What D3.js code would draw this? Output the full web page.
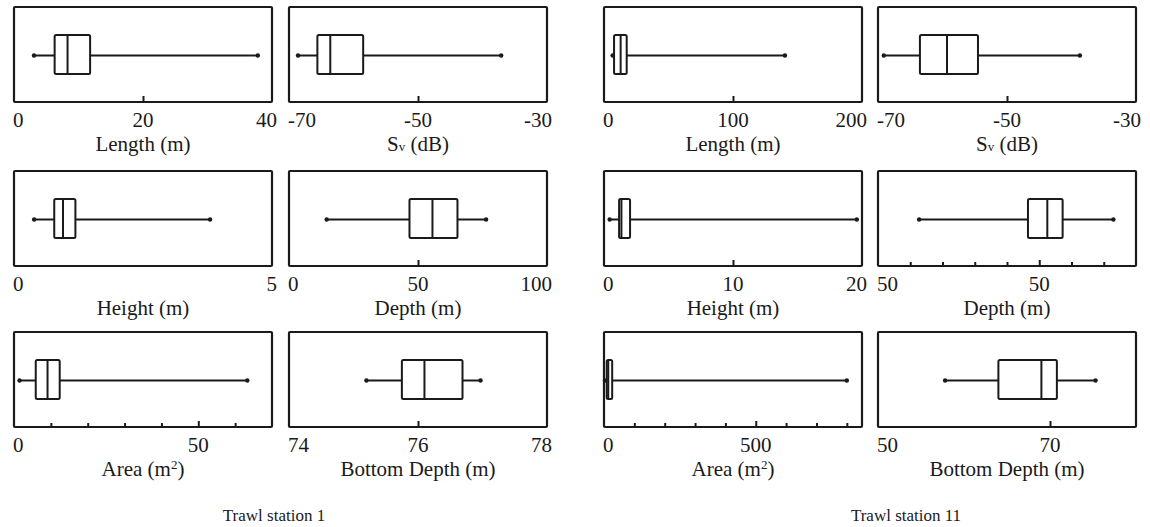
<!DOCTYPE html>
<html>
<head>
<meta charset="utf-8">
<script src="https://cdn.jsdelivr.net/npm/d3@7"></script>
<style>
  body { margin: 0; background: #fff; }
  text { font-family: "Liberation Serif", "Times New Roman", serif; fill: #1a1a1a; }
</style>
</head>
<body>
<div id="chart"></div>
<script>
// panels, row by row: station 1 (two columns) then station 11 (two columns)
var titles = ["Length (m)", "Sv (dB)", "Length (m)", "Sv (dB)",
              "Height (m)", "Depth (m)", "Height (m)", "Depth (m)",
              "Area (m2)", "Bottom Depth (m)", "Area (m2)", "Bottom Depth (m)"];

var domains = [[0, 40], [-70, -30], [0, 200], [-70, -30],
               [0, 5], [0, 100], [0, 20], [30, 62],
               [0, 70], [74, 78], [0, 850], [50, 80]];

var labelValues = [[0, 20, 40], [-70, -50, -30], [0, 100, 200], [-70, -50, -30],
                   [0, 5], [0, 50, 100], [0, 10, 20], [30, 50],
                   [0, 50], [74, 76, 78], [0, 500], [50, 70]];

var labelTexts = [["0", "20", "40"], ["-70", "-50", "-30"], ["0", "100", "200"], ["-70", "-50", "-30"],
                  ["0", "5"], ["0", "50", "100"], ["0", "10", "20"], ["50", "50"],
                  ["0", "50"], ["74", "76", "78"], ["0", "500"], ["50", "70"]];

var majorTicks = [[20], [-50], [100], [-50],
                  [], [50], [10], [50],
                  [50], [76], [500], [70]];

var minorTicks = [[], [], [], [],
                  [], [], [], [34, 38, 42, 46, 54, 58],
                  [10, 20, 30, 40, 60], [], [100, 200, 300, 400, 600, 700, 800], []];

var whiskerLow  = [3.1, -68.6, 6.7, -69.1,   0.39, 14.6, 0.44, 35.1,   1.5, 75.20, 3, 57.8];
var q1          = [6.3, -65.6, 7.8, -63.5,   0.78, 46.7, 1.17, 48.6,   5.9, 75.75, 9, 64.0];
var median      = [8.3, -63.6, 12.9, -59.3,  0.95, 55.6, 1.35, 51.0,   9.1, 76.10, 14, 69.0];
var q3          = [11.8, -58.5, 17.6, -54.5, 1.19, 65.3, 2.02, 52.9,   12.4, 76.69, 27, 70.8];
var whiskerHigh = [37.8, -37.1, 140.3, -38.7, 3.80, 76.4, 19.6, 59.2,  63.3, 76.97, 800, 75.3];

var stations = ["Trawl station 1", "Trawl station 11"];

var colX = [14, 289, 604, 878];
var rowY = [7, 171, 332];
var pw = 258, ph = 95;
var ink = "#1a1a1a";

var svg = d3.select("#chart").append("svg")
    .attr("width", 1150)
    .attr("height", 527);

titles.forEach(function (title, i) {
  var col = i % 4, row = Math.floor(i / 4);
  var x0 = colX[col], y0 = rowY[row];

  var g = svg.append("g")
      .attr("transform", "translate(" + x0 + "," + y0 + ")");

  var x = d3.scaleLinear().domain(domains[i]).range([0, pw]);
  var cy = ph / 2;
  var bh = 39;

  // ticks, pointing up into the frame
  g.append("g")
      .attr("transform", "translate(0," + ph + ")")
      .call(d3.axisBottom(x).tickValues(minorTicks[i]).tickSize(-4).tickFormat(""))
      .call(function (a) { a.select(".domain").remove(); })
      .selectAll("line").attr("stroke", ink).attr("stroke-width", 2);
  g.append("g")
      .attr("transform", "translate(0," + ph + ")")
      .call(d3.axisBottom(x).tickValues(majorTicks[i]).tickSize(-6).tickFormat(""))
      .call(function (a) { a.select(".domain").remove(); })
      .selectAll("line").attr("stroke", ink).attr("stroke-width", 2);

  // frame
  g.append("rect")
      .attr("width", pw).attr("height", ph)
      .attr("fill", "none")
      .attr("stroke", ink)
      .attr("stroke-width", 2.2)
      .attr("rx", 1);

  // whisker
  g.append("line")
      .attr("x1", x(whiskerLow[i])).attr("x2", x(whiskerHigh[i]))
      .attr("y1", cy + 1).attr("y2", cy + 1)
      .attr("stroke", ink).attr("stroke-width", 2);
  g.selectAll("circle.end")
      .data([whiskerLow[i], whiskerHigh[i]])
      .enter().append("circle")
      .attr("class", "end")
      .attr("cx", function (d) { return x(d); })
      .attr("cy", cy + 1)
      .attr("r", 2.2)
      .attr("fill", ink);

  // box
  g.append("rect")
      .attr("x", x(q1[i]))
      .attr("y", cy - bh / 2)
      .attr("width", x(q3[i]) - x(q1[i]))
      .attr("height", bh)
      .attr("fill", "#fff")
      .attr("stroke", ink)
      .attr("stroke-width", 2)
      .attr("rx", 1.5);
  g.append("line")
      .attr("x1", x(median[i])).attr("x2", x(median[i]))
      .attr("y1", cy - bh / 2).attr("y2", cy + bh / 2)
      .attr("stroke", ink).attr("stroke-width", 2);

  // tick labels
  var n = labelValues[i].length;
  g.selectAll("text.tl")
      .data(labelValues[i])
      .enter().append("text")
      .attr("class", "tl")
      .attr("x", function (d, j) {
        if (j == 0) return x(d) - 1;
        if (j == n - 1 && n > 1 && d == domains[i][1]) return x(d) + 5;
        return x(d);
      })
      .attr("y", ph + 25)
      .attr("text-anchor", function (d, j) {
        if (j == 0) return "start";
        if (j == n - 1 && d == domains[i][1]) return "end";
        return "middle";
      })
      .attr("font-size", 21)
      .text(function (d, j) { return labelTexts[i][j]; });

  // axis title
  var t = g.append("text")
      .attr("x", pw / 2)
      .attr("y", ph + 49)
      .attr("text-anchor", "middle")
      .attr("font-size", 21);
  if (title.indexOf("Sv") == 0) {
    t.append("tspan").text("S");
    t.append("tspan").attr("font-size", 13).text("v");
    t.append("tspan").text(" (dB)");
  } else if (title.indexOf("(m2)") > 0) {
    t.append("tspan").text(title.replace("m2)", "m"));
    t.append("tspan").attr("font-size", 13).attr("dy", -7).text("2");
    t.append("tspan").attr("dy", 7).text(")");
  } else {
    t.text(title);
  }
});

svg.selectAll("text.station")
    .data(stations)
    .enter().append("text")
    .attr("class", "station")
    .attr("x", function (d, i) { return i == 0 ? 274 : 906; })
    .attr("y", 521)
    .attr("text-anchor", "middle")
    .attr("font-size", 17)
    .text(function (d) { return d; });
</script>
</body>
</html>
